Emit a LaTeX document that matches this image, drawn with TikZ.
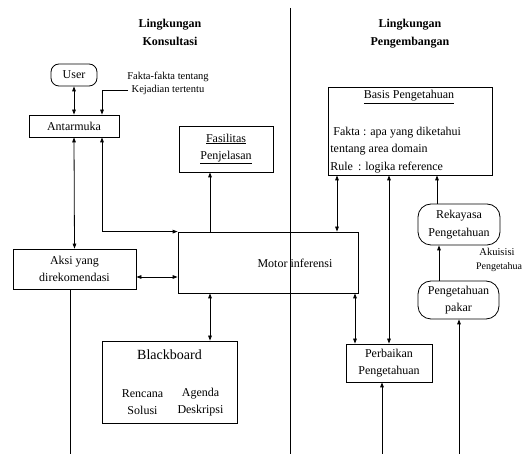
\documentclass[tikz,border=0pt]{standalone}
\usepackage{fontspec}
\setmainfont{Liberation Serif}
\usetikzlibrary{arrows.meta,calc}
\begin{document}
\begin{tikzpicture}[x=1pt,y=-1pt,
  line width=0.8pt,
  txt/.style={font=\fontsize{12}{17.5}\selectfont, align=center, inner sep=0pt},
  small/.style={font=\fontsize{10.5}{13}\selectfont, align=center, inner sep=0pt},
  head/.style={font=\fontsize{12}{18}\selectfont\bfseries, align=center, inner sep=0pt},
  rbox/.style={draw, txt, rounded corners=#1},
  arr/.style={-{Triangle[length=5pt,width=3.6pt]}},
  darr/.style={{Triangle[length=5pt,width=3.6pt]}-{Triangle[length=5pt,width=3.6pt]}}
]
\useasboundingbox (0,0) rectangle (523,454);

% section headings
\node[head] (headK) at (170,32) {Lingkungan\\Konsultasi};
\node[head] (headP) at (410,34) {Lingkungan\\Pengembangan};

% consultation side
\node[rbox=8pt, minimum width=46pt, minimum height=22pt] (user) at (74,75) {User};
\node[small] (fakta) at (168,83.5) {Fakta-fakta tentang\\Kejadian tertentu};
\node[draw, txt, minimum width=90pt, minimum height=22pt] (antarmuka) at (74,126) {Antarmuka};
\node[draw, txt, minimum width=94pt, minimum height=46pt] (fasilitas) at (226,149) {\underline{Fasilitas}\\\underline{Penjelasan}};
\node[draw, txt, minimum width=123pt, minimum height=40pt] (aksi) at (74.5,269) {Aksi yang\\direkomendasi};
\node[draw, minimum width=180pt, minimum height=61pt, inner sep=0pt] (motor) at (268,262.5) {};
\node[txt] (motorlabel) at (295,263) {Motor inferensi};

% blackboard
\node[draw, minimum width=135pt, minimum height=82pt, inner sep=0pt] (blackboard) at (169.5,382) {};
\node[font=\fontsize{14}{17}\selectfont, inner sep=0pt] (bbtitle) at (169.5,355) {Blackboard};
\node[txt] (bbleft) at (142.5,402) {Rencana\\Solusi};
\node[txt] (bbright) at (200.5,402) {Agenda\\Deskripsi};

% development side
\node[draw, minimum width=164pt, minimum height=88pt, inner sep=0pt] (basis) at (410,131) {};
\node[txt] (basistitle) at (409,97) {\underline{Basis Pengetahuan}};
\node[txt, anchor=base west] (basis1) at (333,136) {Fakta : apa yang diketahui};
\node[txt, anchor=base west] (basis2) at (330,153) {tentang area domain};
\node[txt, anchor=base west] (basis3) at (330,171) {Rule\hspace{5pt}: logika reference};
\node[rbox=13pt, minimum width=82pt, minimum height=41pt] (rekayasa) at (459,224.5) {Rekayasa\\Pengetahuan};
\node[small] (akuisisi) at (497,252) {Akuisisi};
\node[small, font=\fontsize{10}{13}\selectfont, anchor=east] (akuisisi2) at (522.5,267) {Pengetahua};
\node[rbox=13pt, minimum width=81pt, minimum height=38pt] (pakar) at (458.5,300) {Pengetahuan\\pakar};
\node[draw, txt, minimum width=86pt, minimum height=38pt] (perbaikan) at (389,363) {Perbaikan\\Pengetahuan};

% free ends and guide coordinates
\coordinate (faktaend) at (128,90);
\coordinate (aksiend) at (70,454);
\coordinate (divtop) at (290,8);
\coordinate (divbot) at (290,454);
\coordinate (pakarin) at (459,454);
\coordinate (perbin) at (382,454);
\coordinate (gx337) at (337,0);
\coordinate (gx437) at (437,0);
\coordinate (gx439) at (439,0);
\coordinate (gx355) at (355,0);
\coordinate (gx210) at (210,0);

% consultation connectors
\draw[darr] (user.south) -- (antarmuka.north);
\draw[arr] (faktaend) -| ([xshift=28pt]antarmuka.north);
\draw[darr] (antarmuka.south) -- (aksi.north);
\draw[darr] ([xshift=28pt]antarmuka.south) |- (motor.north west);
\draw[arr] (motor.north -| gx210) -- (fasilitas.south -| gx210);
\draw[darr] ([yshift=-8pt]aksi.east) -- ([yshift=-8pt]aksi.east -| motor.west);
\draw[darr] (motor.south -| gx210) -- (blackboard.north -| gx210);
\draw ([xshift=-4.5pt]aksi.south) -- (aksiend);

% development connectors
\draw[darr] (basis.south -| gx337) -- (motor.north -| gx337);
\draw[darr] (basis.south -| perbaikan.north) -- (perbaikan.north);
\draw[arr] (rekayasa.north -| gx437) -- (basis.south -| gx437);
\draw[arr] (pakar.north -| gx439) -- (rekayasa.south -| gx439);
\draw[arr] (pakarin) -- (pakar.south -| pakarin);
\draw[darr] (motor.south -| gx355) -- (perbaikan.north -| gx355);
\draw[arr] (perbin) -- (perbaikan.south -| perbin);

% divider between the two environments
\draw (divtop) -- (divbot);
\end{tikzpicture}
\end{document}
